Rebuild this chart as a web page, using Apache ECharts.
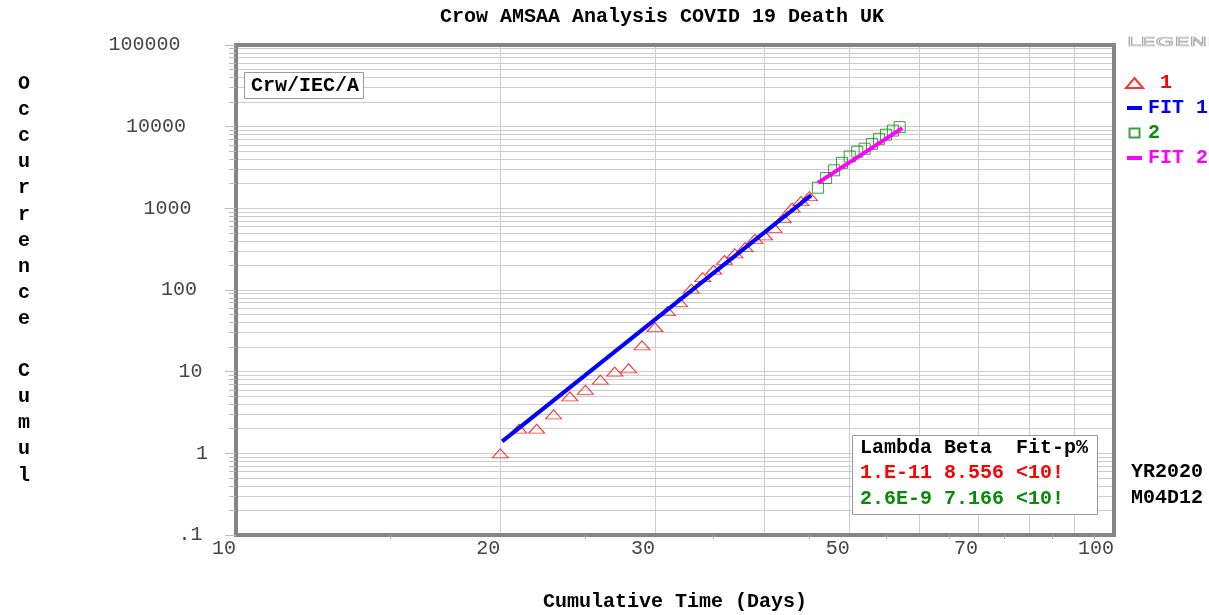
<!DOCTYPE html>
<html><head><meta charset="utf-8">
<script src="https://cdn.jsdelivr.net/npm/echarts@6/dist/echarts.min.js"></script>
<style>html,body{margin:0;padding:0;background:#fff}#c{width:1209px;height:615px}</style>
</head><body><div id="c"></div>
<script>
// ---- data ----
const days1 = [20,21,22,23,24,25,26,27,28,29,30,31,32,33,34,35,36,37,38,39,40,41,42,43,44,45];
const deaths1 = [1,2,2,3,5,6,8,10,11,21,35,55,71,104,144,177,233,281,335,422,465,578,759,1019,1228,1408];
const days2 = [46,47,48,49,50,51,52,53,54,55,56,57];
const deaths2 = [1789,2352,2921,3605,4313,4934,5373,6159,7097,7978,8958,9875];
const fit1Days = [20.1, 45.2];
const fit1Values = [1.4, 1450];
const fit2Days = [46.0, 57.4];
const fit2Values = [2050, 9600];
// ---- axis ticks / labels ----
const xLabelValues = [10,20,30,50,70,100];
const xGridValues = [20,30,40,50,60,70,80,90];
const xTickValues = [15,25,35,45,55,65,75,85,95];
const yDecades = [0.1,1,10,100,1000,10000,100000];
const yMantissas = [2,3,4,5,6,7,8,9];
const yNameLetters = ['O','c','c','u','r','r','e','n','c','e',' ','C','u','m','u','l'];

const yMinorValues = [];
yDecades.slice(0,-1).forEach(d => yMantissas.forEach(m => yMinorValues.push(+(m*d).toPrecision(3))));
const yAllGrid = yDecades.concat(yMinorValues);

const MONO = '"Liberation Mono","DejaVu Sans Mono",monospace';
const RED = '#ff0000', BLUE = '#0000ff', GREEN = '#0a8a0a', MAGENTA = '#ff00ff';

// legend icons (17x10 box; invisible moves fix the bounding box)
const ICON_DASH = 'path://M0,0M17,10M1,3H16V7H1Z';
const ICON_SQUARE = 'path://M0,0M17,10M3.5,0.5H13.5V9.5H3.5Z';

function yLabel(v){
  const s = v < 1 ? String(+v.toPrecision(3)).replace(/^0/, '') : String(Math.round(v));
  return '{p' + s.length + '|' + s + '}';
}
const yRich = {};
for (let n = 1; n <= 6; n++) {
  yRich['p' + n] = {fontFamily: MONO, fontSize: 20, color: '#444', padding: [0, 5.5*(n-1), 0, 0]};
}

const chart = echarts.init(document.getElementById('c'), null, {renderer:'canvas'});
chart.setOption({
  animation: false,
  backgroundColor: '#fff',
  title: [
    {text: 'Crow AMSAA Analysis COVID 19 Death UK', left: 440, top: 7, padding: 0,
     textStyle: {fontFamily: MONO, fontSize: 20, fontWeight: 'bold', color: '#000', lineHeight: 20}},
    {text: 'Crw/IEC/A', left: 244, top: 72, padding: [3,5,3,7], borderColor: '#999', borderWidth: 1,
     backgroundColor: '#fff',
     textStyle: {fontFamily: MONO, fontSize: 20, fontWeight: 'bold', color: '#000', lineHeight: 21}},
    {text: '{h|Lambda Beta  Fit-p%}\n{r|1.E-11 8.556 <10!}\n{g|2.6E-9 7.166 <10!}',
     left: 852, top: 435, padding: [0,10,3,8], borderColor: '#999', borderWidth: 1, backgroundColor: '#fff',
     textStyle: {fontFamily: MONO, fontSize: 20, fontWeight: 'bold', lineHeight: 25.5,
       rich: {
         h: {fontFamily: MONO, fontSize: 20, fontWeight: 'bold', color: '#000', lineHeight: 25.5},
         r: {fontFamily: MONO, fontSize: 20, fontWeight: 'bold', color: RED, lineHeight: 25.5},
         g: {fontFamily: MONO, fontSize: 20, fontWeight: 'bold', color: GREEN, lineHeight: 25.5}
       }}},
    {text: 'YR2020\nM04D12', left: 1131, top: 459, padding: 0,
     textStyle: {fontFamily: MONO, fontSize: 20, fontWeight: 'bold', color: '#000', lineHeight: 26}}
  ],
  legend: {
    orient: 'vertical', left: 1125, top: 73, padding: 0, itemWidth: 17, itemHeight: 10, itemGap: 5,
    selectedMode: false,
    formatter: n => n === '1' ? ' 1' : n,
    textStyle: {fontFamily: MONO, fontSize: 20, fontWeight: 'bold', lineHeight: 20},
    data: [
      {name: '1', textStyle: {color: RED}},
      {name: 'FIT 1', icon: ICON_DASH, textStyle: {color: BLUE}},
      {name: '2', icon: ICON_SQUARE, textStyle: {color: GREEN}},
      {name: 'FIT 2', icon: ICON_DASH, textStyle: {color: MAGENTA}}
    ]
  },
  graphic: [
    {type: 'text', x: 24, y: 71, silent: true,
     style: {text: yNameLetters.join('\n'), font: 'bold 20px ' + MONO, lineHeight: 26.1,
             align: 'center', verticalAlign: 'top', fill: '#000'}},
    {type: 'text', x: 1127, y: 37, scaleX: 2.0, silent: true,
     style: {text: 'LEGEND', font: '12px "DejaVu Sans"', fill: 'rgba(0,0,0,0)', stroke: '#a8a8a8', lineWidth: 0.7}}
  ],
  grid: {left: 236, right: 95, top: 45, bottom: 80, show: true, borderColor: '#858585', borderWidth: 4,
         outerBoundsMode: 'none'},
  xAxis: {
    type: 'log', logBase: 10, min: 10, max: 100,
    name: 'Cumulative Time (Days)', nameLocation: 'middle', nameGap: 57,
    nameTextStyle: {fontFamily: MONO, fontSize: 20, fontWeight: 'bold', color: '#000'},
    axisLine: {show: false},
    axisTick: {show: true, customValues: xTickValues, length: 4, lineStyle: {color: '#aaa'}},
    axisLabel: {customValues: xLabelValues, formatter: v => String(Math.round(v)), align: 'right', margin: 4,
                fontFamily: MONO, fontSize: 20, color: '#444'},
    splitLine: {show: false}
  },
  yAxis: [
    {type: 'log', logBase: 10, min: 0.1, max: 100000,
     axisLine: {show: false},
     axisTick: {show: true, customValues: yMinorValues, length: 7, lineStyle: {color: '#bbb'}},
     axisLabel: {formatter: yLabel, margin: 28, rich: yRich, fontFamily: MONO, fontSize: 20, color: '#444'},
     splitLine: {show: false}},
    {type: 'log', logBase: 10, min: 0.1, max: 100000, position: 'left',
     axisLine: {show: false},
     axisTick: {show: true, length: 11, lineStyle: {color: '#bbb'}},
     axisLabel: {show: false}, splitLine: {show: false}}
  ],
  series: [
    {type: 'line', name: 'grid', data: [], silent: true, z: -1,
     markLine: {silent: true, symbol: 'none', z: -1, animation: false, label: {show: false},
       lineStyle: {type: 'solid', color: '#cdcdcd', width: 1},
       emphasis: {disabled: true},
       data: xGridValues.map(v => ({xAxis: v})).concat(yAllGrid.map(v => ({yAxis: v})))}},
    {name: '1', type: 'scatter', data: days1.map((d,i) => [d, deaths1[i]]),
     symbol: 'triangle', symbolSize: [16,9], z: 3,
     itemStyle: {color: 'rgba(255,255,255,0)', borderColor: RED, borderWidth: 1}},
    {name: 'FIT 1', type: 'line', data: fit1Days.map((d,i) => [d, fit1Values[i]]),
     symbol: 'none', showSymbol: false, z: 4,
     lineStyle: {color: BLUE, width: 4}, itemStyle: {color: BLUE}},
    {name: '2', type: 'scatter', data: days2.map((d,i) => [d, deaths2[i]]),
     symbol: 'rect', symbolSize: [11,11], z: 3,
     itemStyle: {color: 'rgba(255,255,255,0)', borderColor: GREEN, borderWidth: 1}},
    {name: 'FIT 2', type: 'line', data: fit2Days.map((d,i) => [d, fit2Values[i]]),
     symbol: 'none', showSymbol: false, z: 4,
     lineStyle: {color: MAGENTA, width: 4}, itemStyle: {color: MAGENTA}}
  ]
});
</script></body></html>
